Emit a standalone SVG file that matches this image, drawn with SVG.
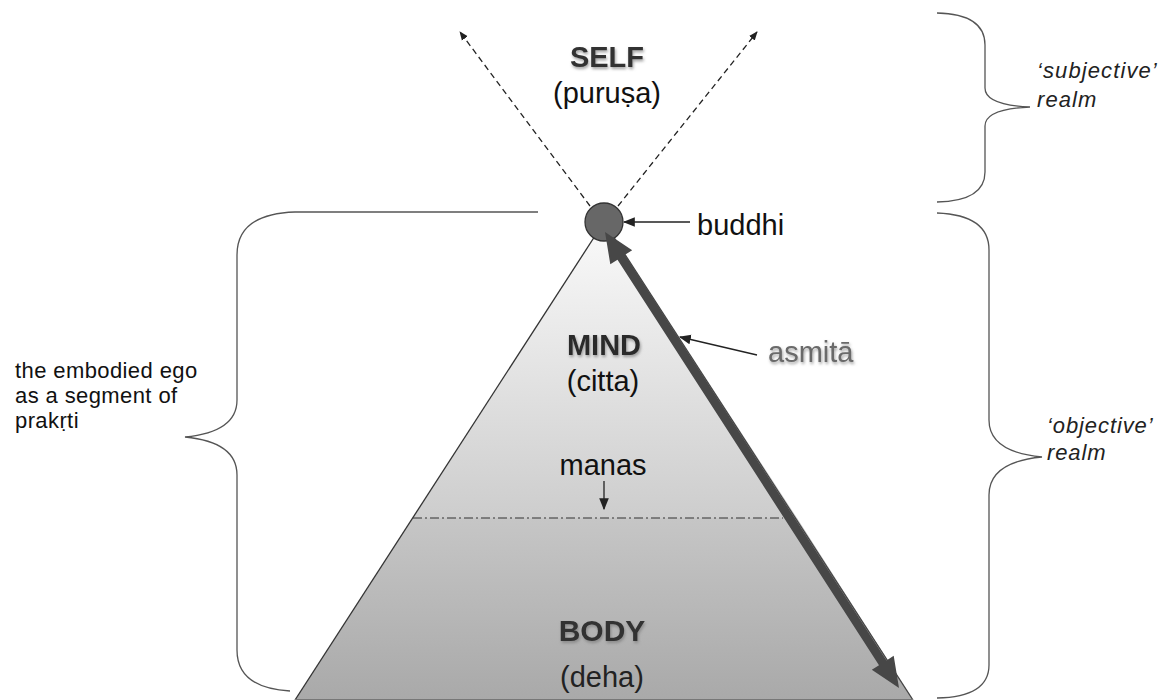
<svg xmlns="http://www.w3.org/2000/svg" width="1169" height="700" viewBox="0 0 1169 700">
<style>
.t{font-family:"Liberation Sans",Arial,sans-serif;fill:#111}
.b{font-weight:bold;fill:#333}
.i{font-style:italic;fill:#222}
.brace{fill:none;stroke:#555;stroke-width:1.3}
.thin{stroke:#222;stroke-width:1.3;fill:none}
</style>
<defs>
<linearGradient id="gTop" x1="0" y1="222" x2="0" y2="518" gradientUnits="userSpaceOnUse">
<stop offset="0" stop-color="#fafafa"/><stop offset="1" stop-color="#cdcdcd"/>
</linearGradient>
<linearGradient id="gBot" x1="0" y1="518" x2="0" y2="700" gradientUnits="userSpaceOnUse">
<stop offset="0" stop-color="#c6c6c6"/><stop offset="1" stop-color="#a9a9a9"/>
</linearGradient>
<filter id="sh" x="-20%" y="-30%" width="140%" height="160%">
<feDropShadow dx="1" dy="2" stdDeviation="1.5" flood-color="#777" flood-opacity="0.7"/>
</filter>
<marker id="ah" viewBox="0 0 10 10" refX="9" refY="5" markerWidth="9" markerHeight="9" markerUnits="userSpaceOnUse" orient="auto">
<path d="M0,1 L10,5 L0,9 Z" fill="#222"/>
</marker>
<marker id="ah2" viewBox="0 0 10 10" refX="9" refY="5" markerWidth="12" markerHeight="12" markerUnits="userSpaceOnUse" orient="auto">
<path d="M0,1 L10,5 L0,9 Z" fill="#222"/>
</marker>
</defs>

<g id="pyramid">
<polygon points="604,222 413,518 797,518" fill="url(#gTop)"/>
<polygon points="413,518 797,518 913,700 295,700" fill="url(#gBot)"/>
<line x1="604" y1="222" x2="295" y2="700" stroke="#333" stroke-width="1.3"/>
<line x1="604" y1="222" x2="913" y2="700" stroke="#444" stroke-width="1.3"/>
<line x1="295" y1="699.5" x2="913" y2="699.5" stroke="#777" stroke-width="1"/>
<line x1="413" y1="518" x2="783" y2="518" stroke="#333" stroke-width="1.1" stroke-dasharray="9 3 2 3"/>
</g>

<g id="connectors">
<line x1="590" y1="206" x2="460" y2="32" class="thin" stroke-dasharray="6 4" marker-end="url(#ah)"/>
<line x1="618" y1="206" x2="757" y2="32" class="thin" stroke-dasharray="6 4" marker-end="url(#ah)"/>
<line x1="690" y1="222" x2="624" y2="222" class="thin" marker-end="url(#ah2)"/>
<line x1="757" y1="355" x2="680" y2="337" class="thin" marker-end="url(#ah2)"/>
<line x1="604" y1="481" x2="604" y2="509" class="thin" marker-end="url(#ah2)"/>
</g>

<g id="buddhi-node">
<circle cx="604" cy="222" r="19" fill="#676767" stroke="#333" stroke-width="1.3"/>
<text class="t" x="697" y="235" font-size="29">buddhi</text>
</g>

<g id="asmita-arrow">
<polygon points="605,232 610.3,264.3 617.5,259.7 879,665.2 871.8,669.8 899,688 893.7,655.8 886.5,660.4 625,254.8 632.2,250.2" fill="#474747"/>
</g>

<g id="self">
<text class="t b" x="607" y="67" font-size="29" text-anchor="middle" filter="url(#sh)">SELF</text>
<text class="t" x="607" y="103" font-size="29" text-anchor="middle" fill="#222">(puruṣa)</text>
</g>

<g id="mind">
<text class="t b" x="604" y="355" font-size="29" text-anchor="middle" filter="url(#sh)" style="fill:#2a2a2a">MIND</text>
<text class="t" x="603" y="391" font-size="29" text-anchor="middle">(citta)</text>
</g>

<g id="manas">
<text class="t" x="603" y="475" font-size="29" text-anchor="middle">manas</text>
</g>

<g id="body">
<text class="t b" x="602" y="641" font-size="30" text-anchor="middle" filter="url(#sh)">BODY</text>
<text class="t" x="602" y="687" font-size="29" text-anchor="middle" style="fill:#222">(deha)</text>
</g>

<g id="asmita">
<text class="t" x="768" y="362" font-size="29" filter="url(#sh)" style="fill:#6a6a6a">asmitā</text>
</g>

<g id="subjective">
<path class="brace" d="M937,13 Q985,14 985,45 L985,88 Q985,105 1030,107 Q985,109 985,126 L985,172 Q985,201 937,202"/>
<text class="t i" font-size="22" letter-spacing="1.1"><tspan x="1037" y="78">‘subjective’</tspan><tspan x="1037" y="107">realm</tspan></text>
</g>

<g id="objective">
<path class="brace" d="M937,213 Q989,215 989,250 L989,420 Q989,452 1042,457 Q989,462 989,495 L989,665 Q989,697 937,698"/>
<text class="t i" font-size="22" letter-spacing="0.9"><tspan x="1047" y="433">‘objective’</tspan><tspan x="1047" y="460">realm</tspan></text>
</g>

<g id="ego">
<path class="brace" d="M538,212 L295,212 Q237,214 237,255 L237,400 Q237,432 185,437 Q237,442 237,475 L237,650 Q237,688 290,691"/>
<text class="t" font-size="22" letter-spacing="0.4"><tspan x="15" y="378">the embodied ego</tspan><tspan x="15" y="403">as a segment of</tspan><tspan x="15" y="428">prakṛti</tspan></text>
</g>
</svg>
